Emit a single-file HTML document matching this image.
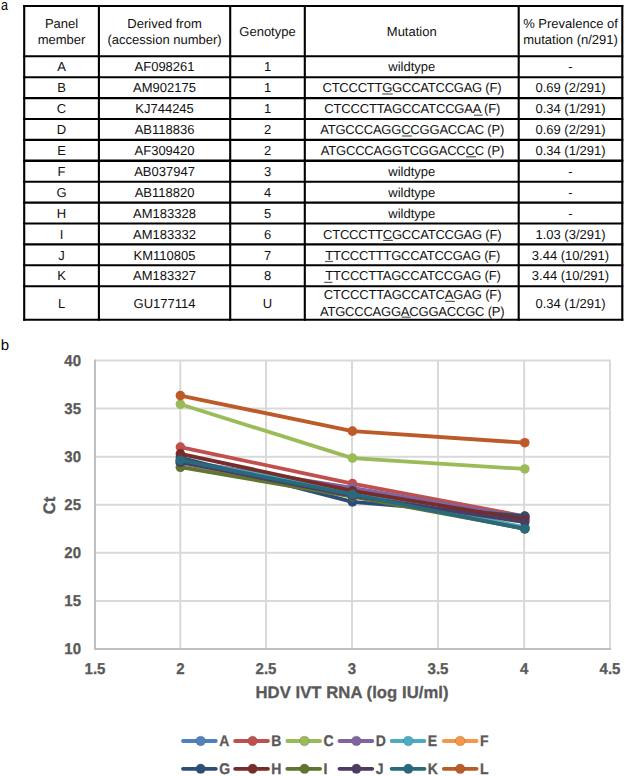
<!DOCTYPE html>
<html><head><meta charset="utf-8"><style>
html,body{margin:0;padding:0;background:#fff;}
body{width:625px;height:776px;position:relative;overflow:hidden;font-family:"Liberation Sans",sans-serif;}
</style></head><body>
<svg width="625" height="776" viewBox="0 0 625 776" style="position:absolute;left:0;top:0" text-rendering="geometricPrecision"><text transform="translate(1.0,9.5) scale(0.84,1)" font-size="15" fill="#000">a</text><text x="0.7" y="350" font-size="15" fill="#000">b</text><g stroke="#000"><line x1="23.2" y1="6.0" x2="623.3" y2="6.0" stroke-width="2.1"/><line x1="23.2" y1="56.3" x2="623.3" y2="56.3" stroke-width="2.1"/><line x1="23.2" y1="77.2" x2="623.3" y2="77.2" stroke-width="2.1"/><line x1="23.2" y1="98.1" x2="623.3" y2="98.1" stroke-width="2.1"/><line x1="23.2" y1="119.0" x2="623.3" y2="119.0" stroke-width="2.1"/><line x1="23.2" y1="139.9" x2="623.3" y2="139.9" stroke-width="2.1"/><line x1="23.2" y1="160.8" x2="623.3" y2="160.8" stroke-width="2.6"/><line x1="23.2" y1="181.7" x2="623.3" y2="181.7" stroke-width="2.1"/><line x1="23.2" y1="202.6" x2="623.3" y2="202.6" stroke-width="2.1"/><line x1="23.2" y1="223.5" x2="623.3" y2="223.5" stroke-width="2.1"/><line x1="23.2" y1="244.4" x2="623.3" y2="244.4" stroke-width="2.1"/><line x1="23.2" y1="265.3" x2="623.3" y2="265.3" stroke-width="2.1"/><line x1="23.2" y1="286.2" x2="623.3" y2="286.2" stroke-width="2.1"/><line x1="23.2" y1="319.7" x2="623.3" y2="319.7" stroke-width="2.1"/><line x1="24.2" y1="5.0" x2="24.2" y2="320.7" stroke-width="2.1"/><line x1="98.9" y1="5.0" x2="98.9" y2="320.7" stroke-width="2.1"/><line x1="230.2" y1="5.0" x2="230.2" y2="320.7" stroke-width="2.1"/><line x1="304.8" y1="5.0" x2="304.8" y2="320.7" stroke-width="2.1"/><line x1="518.7" y1="5.0" x2="518.7" y2="320.7" stroke-width="2.1"/><line x1="622.3" y1="5.0" x2="622.3" y2="320.7" stroke-width="2.1"/></g><g font-family="Liberation Sans, sans-serif" font-size="13" fill="#111"><text x="61.55" y="27.60" text-anchor="middle">Panel</text><text x="61.55" y="43.70" text-anchor="middle">member</text><text x="164.55" y="27.60" text-anchor="middle">Derived from</text><text x="164.55" y="43.70" text-anchor="middle">(accession number)</text><text x="267.50" y="35.60" text-anchor="middle">Genotype</text><text x="411.75" y="35.60" text-anchor="middle">Mutation</text><text x="570.50" y="27.60" text-anchor="middle">% Prevalence of</text><text x="570.50" y="43.70" text-anchor="middle">mutation (n/291)</text><text x="61.55" y="71.45" text-anchor="middle">A</text><text x="164.55" y="71.45" text-anchor="middle">AF098261</text><text x="267.50" y="71.45" text-anchor="middle">1</text><text x="411.75" y="71.45" text-anchor="middle">wildtype</text><text x="570.50" y="71.45" text-anchor="middle">-</text><text x="61.55" y="92.35" text-anchor="middle">B</text><text x="164.55" y="92.35" text-anchor="middle">AM902175</text><text x="267.50" y="92.35" text-anchor="middle">1</text><text x="322.50" y="92.35" text-anchor="start" textLength="179.02">CTCCCTTGGCCATCCGAG (F)</text><text x="570.50" y="92.35" text-anchor="middle">0.69 (2/291)</text><text x="61.55" y="113.25" text-anchor="middle">C</text><text x="164.55" y="113.25" text-anchor="middle">KJ744245</text><text x="267.50" y="113.25" text-anchor="middle">1</text><text x="324.26" y="113.25" text-anchor="start" textLength="176.18">CTCCCTTAGCCATCCGAA (F)</text><text x="570.50" y="113.25" text-anchor="middle">0.34 (1/291)</text><text x="61.55" y="134.15" text-anchor="middle">D</text><text x="164.55" y="134.15" text-anchor="middle">AB118836</text><text x="267.50" y="134.15" text-anchor="middle">2</text><text x="320.16" y="134.15" text-anchor="start" textLength="184.06">ATGCCCAGGCCGGACCAC (P)</text><text x="570.50" y="134.15" text-anchor="middle">0.69 (2/291)</text><text x="61.55" y="155.05" text-anchor="middle">E</text><text x="164.55" y="155.05" text-anchor="middle">AF309420</text><text x="267.50" y="155.05" text-anchor="middle">2</text><text x="320.78" y="155.05" text-anchor="start" textLength="183.54">ATGCCCAGGTCGGACCCC (P)</text><text x="570.50" y="155.05" text-anchor="middle">0.34 (1/291)</text><text x="61.55" y="175.95" text-anchor="middle">F</text><text x="164.55" y="175.95" text-anchor="middle">AB037947</text><text x="267.50" y="175.95" text-anchor="middle">3</text><text x="411.75" y="175.95" text-anchor="middle">wildtype</text><text x="570.50" y="175.95" text-anchor="middle">-</text><text x="61.55" y="196.85" text-anchor="middle">G</text><text x="164.55" y="196.85" text-anchor="middle">AB118820</text><text x="267.50" y="196.85" text-anchor="middle">4</text><text x="411.75" y="196.85" text-anchor="middle">wildtype</text><text x="570.50" y="196.85" text-anchor="middle">-</text><text x="61.55" y="217.75" text-anchor="middle">H</text><text x="164.55" y="217.75" text-anchor="middle">AM183328</text><text x="267.50" y="217.75" text-anchor="middle">5</text><text x="411.75" y="217.75" text-anchor="middle">wildtype</text><text x="570.50" y="217.75" text-anchor="middle">-</text><text x="61.55" y="238.65" text-anchor="middle">I</text><text x="164.55" y="238.65" text-anchor="middle">AM183332</text><text x="267.50" y="238.65" text-anchor="middle">6</text><text x="323.02" y="238.65" text-anchor="start" textLength="178.50">CTCCCTTCGCCATCCGAG (F)</text><text x="570.50" y="238.65" text-anchor="middle">1.03 (3/291)</text><text x="61.55" y="259.55" text-anchor="middle">J</text><text x="164.55" y="259.55" text-anchor="middle">KM110805</text><text x="267.50" y="259.55" text-anchor="middle">7</text><text x="325.26" y="259.55" text-anchor="start" textLength="175.12">TTCCCTTTGCCATCCGAG (F)</text><text x="570.50" y="259.55" text-anchor="middle">3.44 (10/291)</text><text x="61.55" y="280.45" text-anchor="middle">K</text><text x="164.55" y="280.45" text-anchor="middle">AM183327</text><text x="267.50" y="280.45" text-anchor="middle">8</text><text x="325.26" y="280.45" text-anchor="start" textLength="175.52">TTCCCTTAGCCATCCGAG (F)</text><text x="570.50" y="280.45" text-anchor="middle">3.44 (10/291)</text><text x="61.55" y="307.65" text-anchor="middle">L</text><text x="164.55" y="307.65" text-anchor="middle">GU177114</text><text x="267.50" y="307.65" text-anchor="middle">U</text><text x="570.50" y="307.65" text-anchor="middle">0.34 (1/291)</text><text x="323.74" y="299.40" text-anchor="start" textLength="177.75">CTCCCTTAGCCATCAGAG (F)</text><text x="319.88" y="315.60" text-anchor="start" textLength="184.70">ATGCCCAGGACGGACCGC (P)</text></g><rect x="382.20" y="93.40" width="10.60" height="1.2" fill="#5a5a5a"/><rect x="474.00" y="114.60" width="8.80" height="1.2" fill="#5a5a5a"/><rect x="402.00" y="135.40" width="9.80" height="1.2" fill="#5a5a5a"/><rect x="466.00" y="156.20" width="10.00" height="1.2" fill="#5a5a5a"/><rect x="383.20" y="239.80" width="9.60" height="1.2" fill="#5a5a5a"/><rect x="325.00" y="260.90" width="7.90" height="1.2" fill="#5a5a5a"/><rect x="324.20" y="281.80" width="8.20" height="1.2" fill="#5a5a5a"/><rect x="445.20" y="300.80" width="9.60" height="1.2" fill="#5a5a5a"/><rect x="401.60" y="316.60" width="9.20" height="1.2" fill="#5a5a5a"/><line x1="180.30" y1="360.49" x2="180.30" y2="649.00" stroke="#d9d9d9" stroke-width="2"/><line x1="266.00" y1="360.49" x2="266.00" y2="649.00" stroke="#d9d9d9" stroke-width="2"/><line x1="352.00" y1="360.49" x2="352.00" y2="649.00" stroke="#d9d9d9" stroke-width="2"/><line x1="438.00" y1="360.49" x2="438.00" y2="649.00" stroke="#d9d9d9" stroke-width="2"/><line x1="524.10" y1="360.49" x2="524.10" y2="649.00" stroke="#d9d9d9" stroke-width="2"/><line x1="610.00" y1="360.49" x2="610.00" y2="649.00" stroke="#d9d9d9" stroke-width="2"/><line x1="95.00" y1="600.91" x2="611.00" y2="600.91" stroke="#d9d9d9" stroke-width="2"/><line x1="95.00" y1="552.83" x2="611.00" y2="552.83" stroke="#d9d9d9" stroke-width="2"/><line x1="95.00" y1="504.75" x2="611.00" y2="504.75" stroke="#d9d9d9" stroke-width="2"/><line x1="95.00" y1="456.66" x2="611.00" y2="456.66" stroke="#d9d9d9" stroke-width="2"/><line x1="95.00" y1="408.57" x2="611.00" y2="408.57" stroke="#d9d9d9" stroke-width="2"/><line x1="95.00" y1="360.49" x2="611.00" y2="360.49" stroke="#d9d9d9" stroke-width="2"/><line x1="95.00" y1="359.49" x2="95.00" y2="650.00" stroke="#bfbfbf" stroke-width="2"/><line x1="94.00" y1="649.00" x2="611.00" y2="649.00" stroke="#bfbfbf" stroke-width="2"/><path d="M180.40,463.39 L352.40,495.13 L524.80,527.83" fill="none" stroke="#4F81BD" stroke-width="3.8" stroke-linejoin="round" stroke-linecap="round"/><circle cx="180.40" cy="463.39" r="4.8" fill="#4F81BD"/><circle cx="352.40" cy="495.13" r="4.8" fill="#4F81BD"/><circle cx="524.80" cy="527.83" r="4.8" fill="#4F81BD"/><path d="M180.40,447.04 L352.40,483.59 L524.80,516.29" fill="none" stroke="#C0504D" stroke-width="3.8" stroke-linejoin="round" stroke-linecap="round"/><circle cx="180.40" cy="447.04" r="4.8" fill="#C0504D"/><circle cx="352.40" cy="483.59" r="4.8" fill="#C0504D"/><circle cx="524.80" cy="516.29" r="4.8" fill="#C0504D"/><path d="M180.40,404.25 L352.40,458.10 L524.80,468.97" fill="none" stroke="#9BBB59" stroke-width="3.8" stroke-linejoin="round" stroke-linecap="round"/><circle cx="180.40" cy="404.25" r="4.8" fill="#9BBB59"/><circle cx="352.40" cy="458.10" r="4.8" fill="#9BBB59"/><circle cx="524.80" cy="468.97" r="4.8" fill="#9BBB59"/><path d="M180.40,460.51 L352.40,487.92 L524.80,517.54" fill="none" stroke="#8064A2" stroke-width="3.8" stroke-linejoin="round" stroke-linecap="round"/><circle cx="180.40" cy="460.51" r="4.8" fill="#8064A2"/><circle cx="352.40" cy="487.92" r="4.8" fill="#8064A2"/><circle cx="524.80" cy="517.54" r="4.8" fill="#8064A2"/><path d="M180.40,460.51 L352.40,491.28 L524.80,527.34" fill="none" stroke="#4BACC6" stroke-width="3.8" stroke-linejoin="round" stroke-linecap="round"/><circle cx="180.40" cy="460.51" r="4.8" fill="#4BACC6"/><circle cx="352.40" cy="491.28" r="4.8" fill="#4BACC6"/><circle cx="524.80" cy="527.34" r="4.8" fill="#4BACC6"/><path d="M180.40,462.43 L352.40,495.13 L524.80,528.79" fill="none" stroke="#F79646" stroke-width="3.8" stroke-linejoin="round" stroke-linecap="round"/><circle cx="180.40" cy="462.43" r="4.8" fill="#F79646"/><circle cx="352.40" cy="495.13" r="4.8" fill="#F79646"/><circle cx="524.80" cy="528.79" r="4.8" fill="#F79646"/><path d="M180.40,457.62 L352.40,501.96 L524.80,516.09" fill="none" stroke="#2C4D75" stroke-width="3.8" stroke-linejoin="round" stroke-linecap="round"/><circle cx="180.40" cy="457.62" r="4.8" fill="#2C4D75"/><circle cx="352.40" cy="501.96" r="4.8" fill="#2C4D75"/><circle cx="524.80" cy="516.09" r="4.8" fill="#2C4D75"/><path d="M180.40,453.77 L352.40,490.80 L524.80,519.46" fill="none" stroke="#772C2A" stroke-width="3.8" stroke-linejoin="round" stroke-linecap="round"/><circle cx="180.40" cy="453.77" r="4.8" fill="#772C2A"/><circle cx="352.40" cy="490.80" r="4.8" fill="#772C2A"/><circle cx="524.80" cy="519.46" r="4.8" fill="#772C2A"/><path d="M180.40,467.24 L352.40,496.67 L524.80,528.60" fill="none" stroke="#5F7530" stroke-width="3.8" stroke-linejoin="round" stroke-linecap="round"/><circle cx="180.40" cy="467.24" r="4.8" fill="#5F7530"/><circle cx="352.40" cy="496.67" r="4.8" fill="#5F7530"/><circle cx="524.80" cy="528.60" r="4.8" fill="#5F7530"/><path d="M180.40,462.24 L352.40,495.61 L524.80,522.06" fill="none" stroke="#4D3B62" stroke-width="3.8" stroke-linejoin="round" stroke-linecap="round"/><circle cx="180.40" cy="462.24" r="4.8" fill="#4D3B62"/><circle cx="352.40" cy="495.61" r="4.8" fill="#4D3B62"/><circle cx="524.80" cy="522.06" r="4.8" fill="#4D3B62"/><path d="M180.40,460.22 L352.40,494.36 L524.80,528.98" fill="none" stroke="#276A7C" stroke-width="3.8" stroke-linejoin="round" stroke-linecap="round"/><circle cx="180.40" cy="460.22" r="4.8" fill="#276A7C"/><circle cx="352.40" cy="494.36" r="4.8" fill="#276A7C"/><circle cx="524.80" cy="528.98" r="4.8" fill="#276A7C"/><path d="M180.40,395.59 L352.40,431.17 L524.80,442.72" fill="none" stroke="#BC5B28" stroke-width="3.8" stroke-linejoin="round" stroke-linecap="round"/><circle cx="180.40" cy="395.59" r="4.8" fill="#BC5B28"/><circle cx="352.40" cy="431.17" r="4.8" fill="#BC5B28"/><circle cx="524.80" cy="442.72" r="4.8" fill="#BC5B28"/><g font-family="Liberation Sans, sans-serif" font-weight="bold" font-size="15.6" fill="#595959" stroke="#595959" stroke-width="0.3"><text x="81.0" y="654.30" text-anchor="end" textLength="16.68" lengthAdjust="spacingAndGlyphs">10</text><text x="81.0" y="606.21" text-anchor="end" textLength="16.68" lengthAdjust="spacingAndGlyphs">15</text><text x="81.0" y="558.13" text-anchor="end" textLength="16.68" lengthAdjust="spacingAndGlyphs">20</text><text x="81.0" y="510.05" text-anchor="end" textLength="16.68" lengthAdjust="spacingAndGlyphs">25</text><text x="81.0" y="461.96" text-anchor="end" textLength="16.68" lengthAdjust="spacingAndGlyphs">30</text><text x="81.0" y="413.88" text-anchor="end" textLength="16.68" lengthAdjust="spacingAndGlyphs">35</text><text x="81.0" y="365.79" text-anchor="end" textLength="16.68" lengthAdjust="spacingAndGlyphs">40</text><text x="95.00" y="674.2" text-anchor="middle" textLength="20.85" lengthAdjust="spacingAndGlyphs">1.5</text><text x="180.30" y="674.2" text-anchor="middle" textLength="8.34" lengthAdjust="spacingAndGlyphs">2</text><text x="266.00" y="674.2" text-anchor="middle" textLength="20.85" lengthAdjust="spacingAndGlyphs">2.5</text><text x="352.00" y="674.2" text-anchor="middle" textLength="8.34" lengthAdjust="spacingAndGlyphs">3</text><text x="438.00" y="674.2" text-anchor="middle" textLength="20.85" lengthAdjust="spacingAndGlyphs">3.5</text><text x="524.10" y="674.2" text-anchor="middle" textLength="8.34" lengthAdjust="spacingAndGlyphs">4</text><text x="610.00" y="674.2" text-anchor="middle" textLength="20.85" lengthAdjust="spacingAndGlyphs">4.5</text></g><text x="352.0" y="698" text-anchor="middle" font-family="Liberation Sans, sans-serif" font-weight="bold" font-size="16.7" fill="#595959" stroke="#595959" stroke-width="0.3" textLength="193.00">HDV IVT RNA (log IU/ml)</text><text transform="translate(54.9,505.5) rotate(-90)" x="0" y="0" text-anchor="middle" font-family="Liberation Sans, sans-serif" font-weight="bold" font-size="16.7" fill="#595959" stroke="#595959" stroke-width="0.3">Ct</text><g font-family="Liberation Sans, sans-serif" font-weight="bold" font-size="15.4" fill="#595959" stroke="#595959" stroke-width="0.3"><line x1="183.00" y1="741.0" x2="215.80" y2="741.0" stroke="#4F81BD" stroke-width="3.8" stroke-linecap="round"/><circle cx="200.70" cy="741.0" r="4.8" fill="#4F81BD"/><text x="219.20" y="745.90" textLength="10.12" lengthAdjust="spacingAndGlyphs">A</text><line x1="235.16" y1="741.0" x2="267.96" y2="741.0" stroke="#C0504D" stroke-width="3.8" stroke-linecap="round"/><circle cx="252.60" cy="741.0" r="4.8" fill="#C0504D"/><text x="271.36" y="745.90" textLength="10.12" lengthAdjust="spacingAndGlyphs">B</text><line x1="287.32" y1="741.0" x2="320.12" y2="741.0" stroke="#9BBB59" stroke-width="3.8" stroke-linecap="round"/><circle cx="304.50" cy="741.0" r="4.8" fill="#9BBB59"/><text x="323.52" y="745.90" textLength="10.12" lengthAdjust="spacingAndGlyphs">C</text><line x1="339.48" y1="741.0" x2="372.28" y2="741.0" stroke="#8064A2" stroke-width="3.8" stroke-linecap="round"/><circle cx="356.40" cy="741.0" r="4.8" fill="#8064A2"/><text x="375.68" y="745.90" textLength="10.12" lengthAdjust="spacingAndGlyphs">D</text><line x1="391.64" y1="741.0" x2="424.44" y2="741.0" stroke="#4BACC6" stroke-width="3.8" stroke-linecap="round"/><circle cx="408.30" cy="741.0" r="4.8" fill="#4BACC6"/><text x="427.84" y="745.90" textLength="9.35" lengthAdjust="spacingAndGlyphs">E</text><line x1="443.80" y1="741.0" x2="476.60" y2="741.0" stroke="#F79646" stroke-width="3.8" stroke-linecap="round"/><circle cx="460.20" cy="741.0" r="4.8" fill="#F79646"/><text x="480.00" y="745.90" textLength="8.56" lengthAdjust="spacingAndGlyphs">F</text><line x1="183.00" y1="768.8" x2="215.80" y2="768.8" stroke="#2C4D75" stroke-width="3.8" stroke-linecap="round"/><circle cx="200.70" cy="768.8" r="4.8" fill="#2C4D75"/><text x="219.20" y="773.70" textLength="10.90" lengthAdjust="spacingAndGlyphs">G</text><line x1="235.16" y1="768.8" x2="267.96" y2="768.8" stroke="#772C2A" stroke-width="3.8" stroke-linecap="round"/><circle cx="252.60" cy="768.8" r="4.8" fill="#772C2A"/><text x="271.36" y="773.70" textLength="10.12" lengthAdjust="spacingAndGlyphs">H</text><line x1="287.32" y1="768.8" x2="320.12" y2="768.8" stroke="#5F7530" stroke-width="3.8" stroke-linecap="round"/><circle cx="304.50" cy="768.8" r="4.8" fill="#5F7530"/><text x="323.52" y="773.70" textLength="3.90" lengthAdjust="spacingAndGlyphs">I</text><line x1="339.48" y1="768.8" x2="372.28" y2="768.8" stroke="#4D3B62" stroke-width="3.8" stroke-linecap="round"/><circle cx="356.40" cy="768.8" r="4.8" fill="#4D3B62"/><text x="375.68" y="773.70" textLength="7.79" lengthAdjust="spacingAndGlyphs">J</text><line x1="391.64" y1="768.8" x2="424.44" y2="768.8" stroke="#276A7C" stroke-width="3.8" stroke-linecap="round"/><circle cx="408.30" cy="768.8" r="4.8" fill="#276A7C"/><text x="427.84" y="773.70" textLength="10.12" lengthAdjust="spacingAndGlyphs">K</text><line x1="443.80" y1="768.8" x2="476.60" y2="768.8" stroke="#BC5B28" stroke-width="3.8" stroke-linecap="round"/><circle cx="460.20" cy="768.8" r="4.8" fill="#BC5B28"/><text x="480.00" y="773.70" textLength="8.56" lengthAdjust="spacingAndGlyphs">L</text></g></svg>
</body></html>
